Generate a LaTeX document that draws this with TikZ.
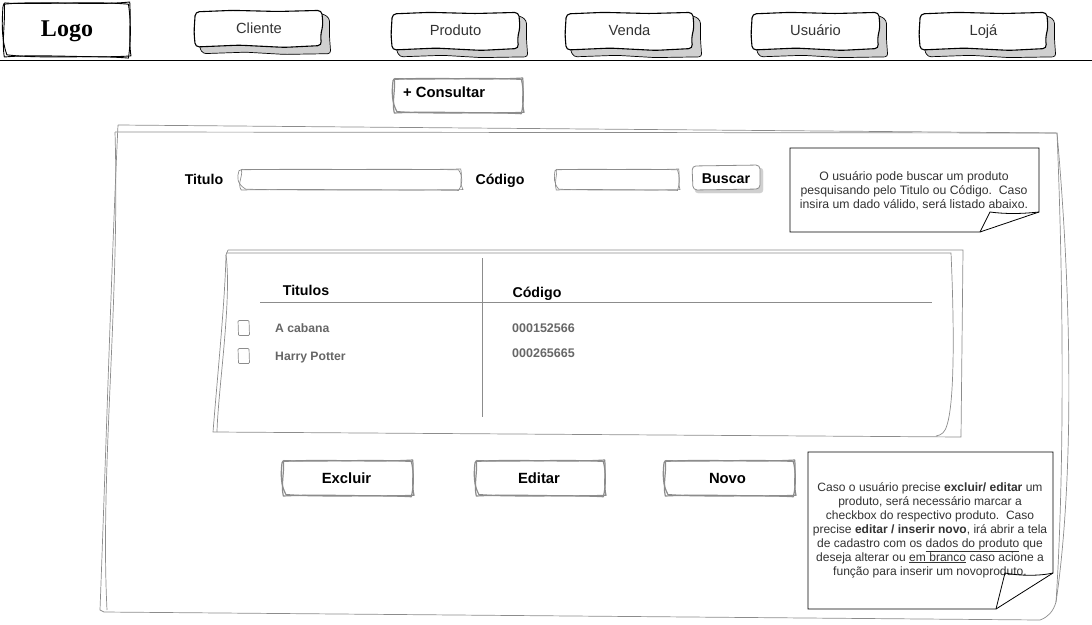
\documentclass[tikz,border=0pt]{standalone}
\usepackage{fontspec}
\setmainfont{Liberation Sans}
\newfontfamily\logofont{Liberation Serif}
\definecolor{sketchgray}{HTML}{8C8C8C}
\definecolor{shadowgray}{HTML}{D0D0D0}
\definecolor{menutext}{HTML}{333333}
\definecolor{rowtext}{HTML}{666666}
\tikzset{
	menulabel/.style={text=menutext, text height=10pt, text depth=0pt, font=\fontsize{14.7}{16}\selectfont},
	boldlabel/.style={text=black, text height=10pt, text depth=0pt, font=\fontsize{14.8}{16}\selectfont\bfseries},
	smallbold/.style={text=black, text height=10pt, text depth=0pt, font=\fontsize{14.2}{16}\selectfont\bfseries},
	rowlabel/.style={text=rowtext, anchor=west, inner sep=0pt, text height=9pt, text depth=0pt, font=\fontsize{12.2}{14}\selectfont\bfseries},
	codelabel/.style={rowlabel, font=\fontsize{12.5}{14}\selectfont\bfseries},
	notelabel/.style={text=menutext, align=center, inner sep=0pt, font=\fontsize{12.25}{14}\selectfont},
	thinsketch/.style={draw=sketchgray, line width=0.7pt},
	grayframe/.style={draw=sketchgray, line width=1.2pt, line join=round}
}
% wobbly double rectangle: style, x, y, width, height
\newcommand{\sketchrect}[5]{
	\begin{scope}[shift={(#2,#3)}, xscale=#4/100, yscale=#5/100]
		\draw[#1] (1,4) .. controls (30,-3) and (70,7) .. (99,0) .. controls (100,30) and (98,70) .. (100,98)
		.. controls (70,103) and (30,94) .. (1,100) .. controls (-1,70) and (2,30) .. (1,4) -- cycle;
		\draw[#1] (0,8) .. controls (1,-1) and (2,2) .. (3,2) .. controls (30,5) and (70,-2) .. (98,4)
		.. controls (100,35) and (100,70) .. (98,102) .. controls (70,96) and (30,104) .. (3,96)
		.. controls (-1,70) and (-1,40) .. (0,8) -- cycle;
	\end{scope}
}
% menu button with its shadow: x, y, width, height
\newcommand{\menubutton}[4]{
	\begin{scope}[shift={(#1,#2)}, xscale=#3/100, yscale=#4/100]
		\draw[fill=shadowgray, line width=0.7pt, rounded corners=3pt] (8,30) -- (100,10) -- (105,22) -- (105,70) -- (106,118)
		-- (70,120) -- (40,114) -- (7,118) -- (4,100) -- cycle;
		\draw[fill=white, line width=1.1pt, rounded corners=4pt] (1,5) -- (30,1) -- (65,4) -- (99,1) -- (100,40) -- (98,70) -- (99,96)
		-- (70,101) -- (35,95) -- (1,100) -- (0,60) -- cycle;
	\end{scope}
}
\begin{document}
\begin{tikzpicture}[x=1pt, y=-1pt]
	\useasboundingbox (0,0) rectangle (1092,624);
	% header
	\sketchrect{line width=0.9pt, line join=round}{3}{2}{128}{55}
	\node[text height=17pt, text depth=0pt, font=\fontsize{24}{26}\selectfont\logofont\bfseries] (logo) at (67,28) {Logo};
	\menubutton{194}{10}{129}{37}
	\menubutton{391}{12}{129}{38}
	\menubutton{565}{12}{129}{38}
	\menubutton{751}{12}{129}{38}
	\menubutton{919}{12}{129}{38}
	\node[menulabel] (cliente) at (259,28) {Cliente};
	\node[menulabel] (produto) at (455.5,30) {Produto};
	\node[menulabel] (venda) at (629.5,30) {Venda};
	\node[menulabel] (usuario) at (815.5,30) {Usuário};
	\node[menulabel] (loja) at (983.5,30) {Lojá};
	\coordinate (HL) at (0,60);
	\coordinate (HR) at (1092,60);
	\draw[line width=0.9pt] (HL) -- (HR);
	\sketchrect{grayframe}{393}{78}{131}{35}
	\node[boldlabel, anchor=west, inner sep=0pt] (consultar) at (403,92) {+ Consultar};
	% page frame
	\draw[thinsketch] (118,125) -- (1057,133) .. controls (1064,300) and (1064,480) .. (1056,602) .. controls (1053,612) and (1048,617) .. (1040,620) -- (104,612) -- (100,610) .. controls (106,450) and (112,250) .. (118,125);
	\draw[thinsketch] (115,132) -- (1056,133);
	\draw[thinsketch] (1057,133) .. controls (1072,300) and (1074,480) .. (1056,602);
	\draw[thinsketch] (115,132) .. controls (120,300) and (100,470) .. (107,610);
	% search line
	\node[smallbold] (titulo) at (204,179) {Titulo};
	\sketchrect{thinsketch}{239}{169}{224}{21}
	\node[smallbold] (codigo) at (500,179) {Código};
	\sketchrect{thinsketch}{555}{169}{125}{21}
	\draw[draw=shadowgray, fill=shadowgray, rounded corners=3pt] (695,168) rectangle (763,193);
	\draw[draw=sketchgray, fill=white, line width=0.8pt, rounded corners=4pt] (692,166) -- (760,165) -- (760,189) -- (693,190) -- cycle;
	\node[smallbold] (buscar) at (726,178) {Buscar};
	% first note
	\coordinate (NA1) at (980,232);
	\coordinate (NA2) at (1039,212);
	\draw[line width=0.8pt, fill=white] (790,148) -- (1039,148) -- (NA2) -- (NA1) -- (790,232) -- cycle;
	\draw[line width=0.8pt] (NA1) -- (990,212) .. controls (1005,214) and (1020,214) .. (NA2);
	\node[notelabel] (notebusca) at (914,191) {O usuário pode buscar um produto\\pesquisando pelo Titulo ou Código.\ \ Caso\\insira um dado válido, será listado abaixo.};
	% table
	\draw[thinsketch] (228,250) -- (963,250) -- (961,437) -- (215,432) -- (213,432) .. controls (218,370) and (225,300) .. (226,255) -- (228,250);
	\draw[thinsketch] (226,253) -- (951,253) .. controls (954,320) and (955,400) .. (947,425) .. controls (945,432) and (942,435) .. (936,436);
	\draw[thinsketch] (226,255) .. controls (232,300) and (218,390) .. (217,432);
	\coordinate (VT) at (482,258);
	\coordinate (VB) at (482,417);
	\coordinate (RL) at (260,302.5);
	\coordinate (RR) at (932,302.5);
	\draw[draw=sketchgray, line width=0.9pt] (VT) -- (VB);
	\draw[draw=sketchgray, line width=0.9pt] (RL) -- (RR);
	\node[smallbold] (headtitulos) at (306,290) {Titulos};
	\node[smallbold] (headcodigo) at (537,292) {Código};
	\foreach \y/\name/\cod/\yc in {328/A cabana/000152566/328, 356/Harry Potter/000265665/353}{
		\draw[thinsketch, rounded corners=1pt] (238,\y-7.5) -- (249,\y-7.5) -- (249.5,\y+7.5) -- (238.5,\y+7.5) -- cycle;
		\node[rowlabel] (nome\y) at (275,\y) {\name};
		\node[codelabel] (cod\y) at (512,\yc) {\cod};
	}
	% buttons
	\sketchrect{grayframe}{282}{460}{132}{36}
	\sketchrect{grayframe}{475}{460}{131}{36}
	\sketchrect{grayframe}{664}{460}{132}{36}
	\node[boldlabel] (excluir) at (346.5,478) {Excluir};
	\node[boldlabel] (editar) at (539,478) {Editar};
	\node[boldlabel] (novo) at (727.5,478) {Novo};
	% second note
	\coordinate (NB1) at (996,609);
	\coordinate (NB2) at (1053,573);
	\draw[line width=0.8pt, fill=white] (808,452) -- (1053,452) -- (NB2) -- (NB1) -- (808,609) -- cycle;
	\node[notelabel, font=\fontsize{12.05}{14}\selectfont] (noteacoes) at (930,530) {Caso o usuário precise \textbf{excluir/ editar} um\\produto, será necessário marcar a\\checkbox do respectivo produto.\ \ Caso\\precise \textbf{editar / inserir novo}, irá abrir a tela\\de cadastro com os \underline{dados do produto} que\\deseja alterar ou \underline{em branco} caso acione a\\função para inserir um novoproduto.};
	\draw[line width=0.8pt] (NB1) -- (1005,573) .. controls (1020,576) and (1040,576) .. (NB2);
\end{tikzpicture}
\end{document}
